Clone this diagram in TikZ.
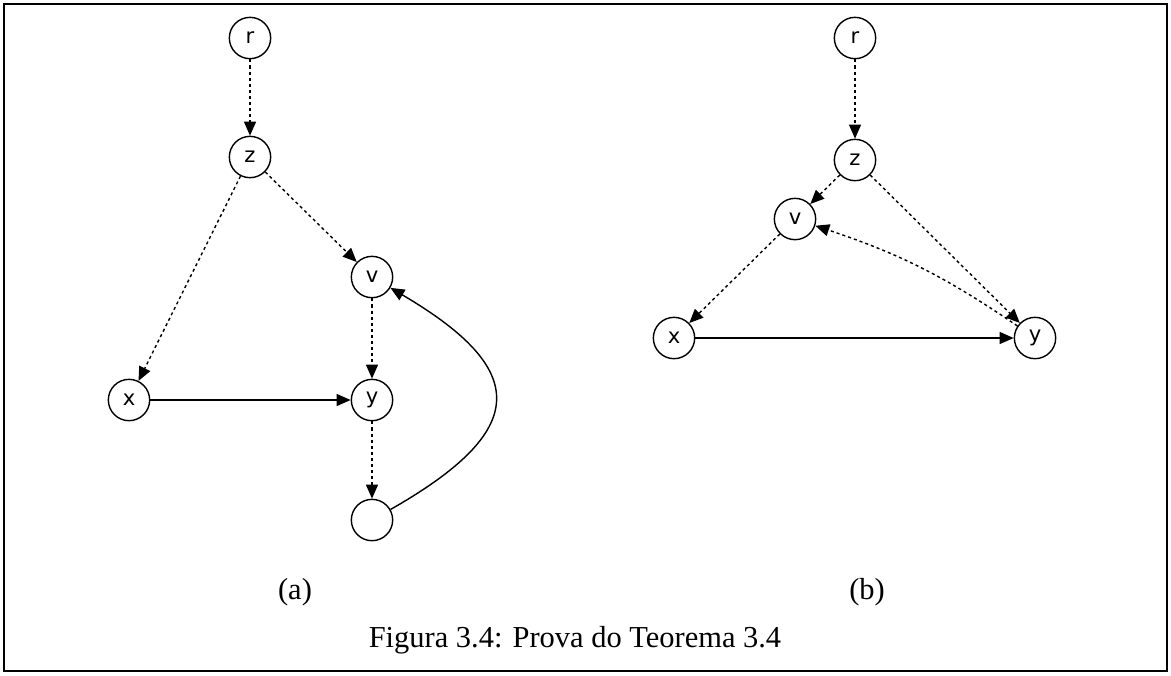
\documentclass[tikz,border=0pt]{standalone}
\usepackage{fontspec}
\setmainfont{Liberation Serif}
\newfontfamily\vertfont{DejaVu Sans}
\usetikzlibrary{arrows.meta}

\begin{document}
\begin{tikzpicture}[
x=0.015cm,y=-0.015cm,
vert/.style={draw,circle,minimum size=0.62cm,inner sep=0pt,font=\vertfont\fontsize{9}{9}\selectfont},
tree/.style={dash pattern=on 1.3pt off 1.3pt},
lbl/.style={font=\fontsize{13}{15}\selectfont},
>={Triangle[length=2.1mm,width=1.8mm]},
line width=0.6pt
]

\useasboundingbox (0,0) rectangle (1171,675);
\draw[line width=0.8pt] (4,4) rectangle (1167,671);

% (a)
\node[vert] (r) at (250,38) {r};
\node[vert] (z) at (250,157) {z};
\node[vert] (v) at (372,277) {v};
\node[vert] (x) at (129,400) {x};
\node[vert] (y) at (372,400) {y};
\node[vert] (e) at (372,520) {};

\draw[->,tree] (r) -- (z);
\draw[->,tree] (z) -- (v);
\draw[->,tree] (z) -- (x);
\draw[->,tree] (v) -- (y);
\draw[->,tree] (y) -- (e);
\draw[->] (x) -- (y);
\draw[->] (e) .. controls (530,430) and (530,370) .. (v);

% (b)
\node[vert] (rb) at (855,38) {r};
\node[vert] (zb) at (855,160) {z};
\node[vert] (vb) at (795,219) {v};
\node[vert] (xb) at (674,338) {x};
\node[vert] (yb) at (1035,338) {y};

\draw[->,tree] (rb) -- (zb);
\draw[->,tree] (zb) -- (vb);
\draw[->,tree] (zb) -- (yb);
\draw[->,tree] (vb) -- (xb);
\draw[->,tree] (yb) to[bend right=8] (vb);
\draw[->] (xb) -- (yb);

\node[lbl] (capa) at (295,592) {(a)};
\node[lbl] (capb) at (867,592) {(b)};
\node[lbl] (cap) at (575,640) {Figura 3.4: Prova do Teorema 3.4};

\end{tikzpicture}
\end{document}
